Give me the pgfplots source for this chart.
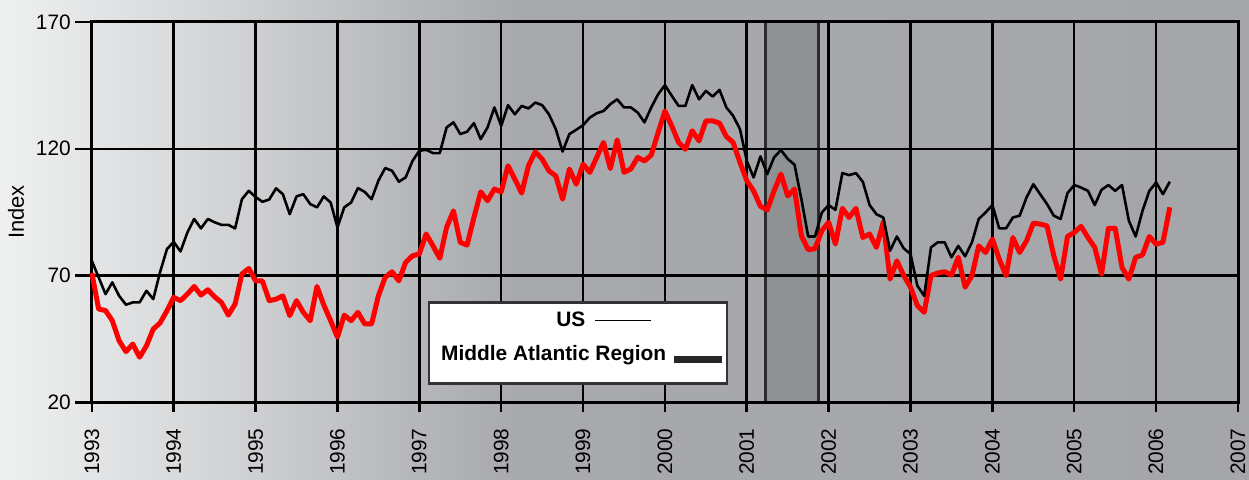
\documentclass[border=0pt]{standalone}
\usepackage{pgfplots}
\pgfplotsset{compat=1.18}
\usepackage{pgfplotstable}
\usepackage{fontspec}
\setmainfont{Liberation Sans}
\definecolor{bg0}{RGB}{239,240,240}
\definecolor{bg1}{RGB}{214,215,217}
\definecolor{bg2}{RGB}{181,182,185}
\definecolor{bg3}{RGB}{168,169,172}
\definecolor{bg4}{RGB}{165,166,169}
\definecolor{bandgray}{RGB}{143,146,148}
\definecolor{bandedge}{RGB}{43,43,43}
\pgfdeclarehorizontalshading{bgshade}{100bp}{color(0bp)=(bg0); color(25bp)=(bg0); color(33bp)=(bg1); color(41.8bp)=(bg2); color(45.8bp)=(bg3); color(75bp)=(bg4); color(100bp)=(bg4)}
\pgfplotstableread{
t us ma
1993.000 75.8 71.0
1993.083 69.3 56.8
1993.167 62.7 56.2
1993.250 67.3 52.2
1993.333 62.0 44.3
1993.417 58.5 40.0
1993.500 59.4 43.0
1993.583 59.4 37.8
1993.667 64.0 42.3
1993.750 60.7 48.9
1993.833 71.3 51.3
1993.917 80.4 56.1
1994.000 83.3 61.4
1994.083 79.5 60.1
1994.167 87.0 62.7
1994.250 92.3 65.7
1994.333 88.6 62.3
1994.417 92.3 64.4
1994.500 91.0 61.6
1994.583 90.0 59.4
1994.667 90.0 54.4
1994.750 88.6 58.8
1994.833 100.1 70.6
1994.917 103.4 72.8
1995.000 101.0 67.9
1995.083 99.1 67.9
1995.167 100.0 60.1
1995.250 104.4 60.7
1995.333 102.1 62.0
1995.417 94.2 54.2
1995.500 101.2 60.1
1995.583 102.1 55.5
1995.667 98.2 52.2
1995.750 96.9 65.7
1995.833 101.2 58.4
1995.917 98.8 52.2
1996.000 89.0 45.7
1996.083 96.9 54.4
1996.167 98.8 52.2
1996.250 104.5 55.5
1996.333 103.0 50.9
1996.417 100.1 50.9
1996.500 107.4 62.0
1996.583 112.4 69.3
1996.667 111.3 71.5
1996.750 107.0 67.9
1996.833 108.7 75.2
1996.917 115.2 77.8
1997.000 119.2 78.5
1997.083 119.6 86.4
1997.167 118.3 81.7
1997.250 118.3 76.8
1997.333 128.4 89.0
1997.417 130.4 95.5
1997.500 125.8 83.1
1997.583 126.7 82.0
1997.667 130.1 92.9
1997.750 123.8 103.0
1997.833 128.4 99.5
1997.917 136.3 104.1
1998.000 129.0 103.0
1998.083 137.2 113.3
1998.167 133.6 108.0
1998.250 136.9 102.5
1998.333 135.9 113.3
1998.417 138.2 118.8
1998.500 137.2 115.9
1998.583 133.6 111.3
1998.667 127.7 109.3
1998.750 118.9 100.1
1998.833 125.8 112.0
1998.917 127.5 106.0
1999.000 129.3 113.9
1999.083 132.3 110.7
1999.167 134.0 116.6
1999.250 134.9 122.5
1999.333 137.6 112.2
1999.417 139.5 123.5
1999.500 136.3 110.7
1999.583 136.3 112.0
1999.667 134.3 116.6
1999.750 130.4 115.2
1999.833 136.3 117.5
1999.917 141.5 126.4
2000.000 145.1 134.9
2000.083 140.9 129.0
2000.167 136.9 122.5
2000.250 136.9 119.8
2000.333 145.1 127.1
2000.417 139.5 123.1
2000.500 142.8 131.0
2000.583 140.6 131.0
2000.667 143.2 130.1
2000.750 136.3 124.8
2000.833 133.0 122.5
2000.917 127.7 114.6
2001.000 115.2 107.4
2001.083 108.7 103.4
2001.167 117.0 97.3
2001.250 110.0 95.9
2001.333 116.6 103.4
2001.417 119.5 110.0
2001.500 116.0 101.4
2001.583 113.7 104.1
2001.667 100.1 85.7
2001.750 85.4 80.2
2001.833 85.4 80.6
2001.917 94.9 87.7
2002.000 97.8 91.0
2002.083 95.9 82.4
2002.167 110.4 96.5
2002.250 109.6 92.9
2002.333 110.4 96.5
2002.417 107.0 85.0
2002.500 97.8 86.4
2002.583 94.2 81.1
2002.667 92.9 91.0
2002.750 79.8 68.6
2002.833 85.4 75.8
2002.917 80.7 70.0
2003.000 78.5 65.4
2003.083 66.0 58.2
2003.167 62.0 55.5
2003.250 81.1 70.0
2003.333 83.1 71.0
2003.417 83.1 71.5
2003.500 77.2 70.2
2003.583 81.7 77.2
2003.667 77.6 65.4
2003.750 83.1 70.0
2003.833 92.3 81.7
2003.917 94.9 79.1
2004.000 97.8 84.4
2004.083 88.6 76.5
2004.167 88.6 70.0
2004.250 92.9 85.0
2004.333 93.6 79.1
2004.417 100.8 83.7
2004.500 106.0 90.7
2004.583 102.1 90.3
2004.667 98.2 89.6
2004.750 93.6 77.8
2004.833 92.3 68.6
2004.917 102.5 85.4
2005.000 105.7 87.0
2005.083 104.7 89.4
2005.167 103.4 85.0
2005.250 97.8 81.1
2005.333 103.8 70.6
2005.417 105.7 88.6
2005.500 103.4 88.6
2005.583 105.7 73.2
2005.667 91.6 68.6
2005.750 85.4 77.2
2005.833 95.5 78.1
2005.917 103.4 85.4
2006.000 106.7 82.4
2006.083 102.1 83.1
2006.167 107.0 96.9
}\datatable
\begin{document}
\begin{tikzpicture}
\begin{axis}[
  set layers,
  clip=false,
  scale only axis,
  width=1148bp, height=381bp,
  xmin=1993, xmax=2007, ymin=20, ymax=170,
  xtick={1993,1994,...,2007},
  ytick={20,70,120,170},
  tick pos=left,
  grid=major,
  grid style={black, line width=2.5bp},
  axis line style={black, line width=3bp},
  tick style={black, line width=2.5bp},
  tick align=outside,
  major tick length=17bp,
  xtick style={/pgfplots/major tick length=10bp},
  /pgf/number format/assume math mode=true,
  /pgf/number format/1000 sep={},
  tick label style={font=\fontsize{21}{24}\selectfont, black},
  xticklabel style={rotate=90, anchor=east, inner sep=0bp, xshift=-9bp},
  yticklabel style={anchor=east, inner sep=0bp, xshift=-4bp},
  ylabel={Index},
  ylabel style={font=\fontsize{22}{26}\selectfont, at={(rel axis cs:0,0.5)}, anchor=center, yshift=76bp},
  legend style={at={(rel axis cs:0.2932,0.266)}, anchor=north west, draw=black!80, line width=2.5bp, fill=white, inner xsep=5bp, inner ysep=10bp, row sep=17bp, column sep=8bp, nodes={inner sep=0bp}, font=\fontsize{21}{25}\selectfont\bfseries},
  legend cell align=right,
  legend plot pos=right,
]
\begin{pgfonlayer}{axis background}
\shade[shading=bgshade] (rel axis cs:-0.080139,-0.20210) rectangle (rel axis cs:1.0096,1.05774);
\end{pgfonlayer}
\addplot[on layer=axis background, fill=bandgray, draw=bandedge, line width=3bp, forget plot] coordinates {(2001.23,170) (2001.87,170)} \closedcycle;
\addlegendimage{legend image code/.code={\draw[overlay, black, line width=1.6bp] (-79bp,0bp) -- (-23bp,0bp); \path[draw=none, fill=none] (0bp,-3.5bp) rectangle (48bp,3.5bp);}}
\addlegendentry{US\hspace*{81bp}}
\addlegendimage{legend image code/.code={\fill[black!85, draw=none] (0bp,-3.5bp) rectangle (48bp,3.5bp);}}
\addlegendentry[text depth=13bp]{\hspace*{7bp}Middle Atlantic Region}
\addplot[red, line width=5bp, line join=round, forget plot] table[x=t, y=ma] {\datatable};
\addplot[black, line width=2.6bp, line join=round, forget plot] table[x=t, y=us] {\datatable};
\end{axis}
\end{tikzpicture}
\end{document}
